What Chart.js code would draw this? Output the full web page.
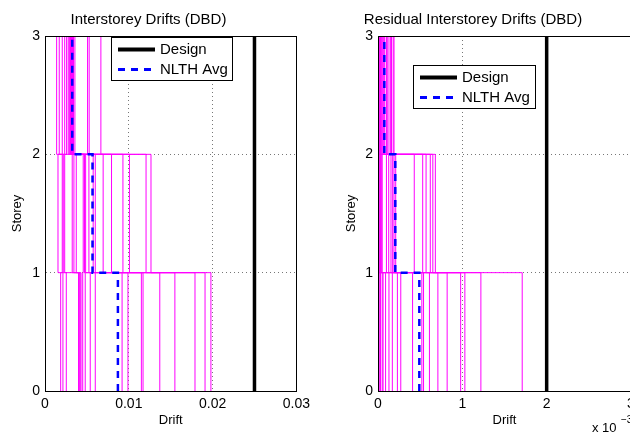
<!DOCTYPE html>
<html>
<head>
<meta charset="utf-8">
<script src="https://cdn.jsdelivr.net/npm/chart.js@4"></script>
<style>
  html, body { margin: 0; padding: 0; background: #fff; overflow: hidden; width: 630px; height: 434px; }
  canvas { position: absolute; top: 0; }
  #left { left: 0; width: 315px; height: 434px; }
  #right { left: 315px; width: 345px; height: 434px; }
</style>
</head>
<body>
<canvas id="left" width="315" height="434"></canvas>
<canvas id="right" width="345" height="434"></canvas>
<script>
const storeys = [0, 1, 2, 3];

// peak interstorey drift of each record (storey 1, 2, 3)
const peakStorey1 = [0.00187, 0.00214, 0.00254, 0.0040, 0.0041, 0.0042, 0.0043, 0.0045, 0.0048, 0.0054,
  0.0060, 0.0092, 0.0099, 0.0115, 0.0117, 0.0137, 0.0155, 0.0179, 0.0191, 0.0198];
const peakStorey2 = [0.00206, 0.00218, 0.00235, 0.00325, 0.00155, 0.00345, 0.00373, 0.00456, 0.0047, 0.00473,
  0.00485, 0.00524, 0.00575, 0.0060, 0.00694, 0.00794, 0.0093, 0.01008, 0.01206, 0.01265];
const peakStorey3 = [0.00139, 0.0017, 0.00206, 0.00235, 0.00258, 0.00277, 0.0029, 0.0030, 0.00306, 0.0031,
  0.0031, 0.0032, 0.0032, 0.0033, 0.00333, 0.0034, 0.00357, 0.00508, 0.00527, 0.00667];
const peakDesign = [0.025, 0.025, 0.025];
const peakAvg = [0.0087, 0.00567, 0.00325];

// residual interstorey drift of each record
const resStorey1 = [0.01e-3, 0.02e-3, 0.03e-3, 0.05e-3, 0.06e-3, 0.09e-3, 0.13e-3, 0.17e-3, 0.23e-3, 0.27e-3,
  0.41e-3, 0.52e-3, 0.54e-3, 0.61e-3, 0.71e-3, 0.82e-3, 0.98e-3, 1.03e-3, 1.22e-3, 1.71e-3];
const resStorey2 = [0, 0.005e-3, 0.01e-3, 0.015e-3, 0.02e-3, 0.03e-3, 0.04e-3, 0.05e-3, 0.10e-3, 0.127e-3,
  0.154e-3, 0.174e-3, 0.19e-3, 0.21e-3, 0.43e-3, 0.53e-3, 0.57e-3, 0.62e-3, 0.65e-3, 0.68e-3];
const resStorey3 = [0, 0, 0.005e-3, 0.01e-3, 0.01e-3, 0.015e-3, 0.02e-3, 0.03e-3, 0.04e-3, 0.05e-3,
  0.06e-3, 0.07e-3, 0.08e-3, 0.10e-3, 0.11e-3, 0.13e-3, 0.15e-3, 0.16e-3, 0.18e-3, 0.19e-3];
const resDesign = [0.002, 0.002, 0.002];
const resAvg = [0.49e-3, 0.205e-3, 0.075e-3];

const font = 'Liberation Sans, Arial, Helvetica, sans-serif';
Chart.defaults.font.family = font;
Chart.defaults.color = '#000';

// stairs: vertical segment per storey, joined at the floor levels
function stairs(drifts) {
  const pts = [];
  drifts.forEach(function (d, i) {
    pts.push({ x: d, y: storeys[i] }, { x: d, y: storeys[i + 1] });
  });
  return pts;
}

function buildDatasets(s1, s2, s3, design, avg) {
  const sets = [
    { label: 'Design', data: stairs(design), borderColor: '#000', borderWidth: 3.5 },
    { label: 'NLTH Avg', data: stairs(avg), borderColor: '#0000ff', borderWidth: 2.5, borderDash: [7, 6] },
  ];
  for (let i = 0; i < s1.length; i++) {
    sets.push({ label: '', data: stairs([s1[i], s2[i], s3[i]]), borderColor: '#ff00ff', borderWidth: 1 });
  }
  return sets;
}

const framePlugin = {
  id: 'frame',
  afterDatasetsDraw(chart) {
    const ctx = chart.ctx, a = chart.chartArea;
    ctx.save();
    ctx.strokeStyle = '#000';
    ctx.lineWidth = 1;
    ctx.strokeRect(Math.round(a.left) + 0.5, Math.round(a.top) + 0.5,
      Math.round(a.right - a.left), Math.round(a.bottom - a.top));
    ctx.restore();
  },
};

const legendBoxPlugin = {
  id: 'legendBox',
  afterDraw(chart, args, opts) {
    const ctx = chart.ctx;
    ctx.save();
    ctx.fillStyle = '#fff';
    ctx.fillRect(opts.x, opts.y, opts.w, opts.h);
    ctx.strokeStyle = '#000';
    ctx.lineWidth = 1;
    ctx.strokeRect(opts.x + 0.5, opts.y + 0.5, opts.w, opts.h);
    ctx.font = '15px ' + font;
    ctx.textBaseline = 'middle';
    ctx.fillStyle = '#000';
    for (let i = 0; i < 2; i++) {
      const ds = chart.data.datasets[i];
      const y = opts.y + 12.5 + i * 20;
      ctx.strokeStyle = ds.borderColor;
      ctx.lineWidth = ds.borderWidth + 0.5;
      ctx.setLineDash(ds.borderDash || []);
      ctx.beginPath();
      ctx.moveTo(opts.x + 7, y);
      ctx.lineTo(opts.x + 44, y);
      ctx.stroke();
      ctx.setLineDash([]);
      ctx.fillText(ds.label, opts.x + 49, y);
    }
    ctx.restore();
  },
};

const exponentPlugin = {
  id: 'exponent',
  afterDraw(chart, args, opts) {
    if (!opts.show) return;
    const ctx = chart.ctx;
    ctx.save();
    ctx.fillStyle = '#000';
    ctx.textBaseline = 'middle';
    ctx.font = '13px ' + font;
    ctx.fillText('x 10', opts.x, opts.y);
    ctx.font = '10px ' + font;
    ctx.fillText('\u22123', opts.x + 29, opts.y - 8);
    ctx.restore();
  },
};

function makeChart(id, cfg) {
  return new Chart(document.getElementById(id), {
    type: 'scatter',
    data: { datasets: cfg.datasets },
    options: {
      responsive: false,
      animation: false,
      showLine: true,
      elements: { point: { radius: 0 }, line: { tension: 0, fill: false } },
      layout: { padding: { left: 0, right: cfg.padRight, top: 0, bottom: 0 } },
      plugins: {
        legend: { display: false },
        tooltip: { enabled: false },
        title: {
          display: true, text: cfg.title, color: '#000',
          font: { size: 15, weight: 'normal' },
          padding: { top: 11, bottom: 7 },
        },
        legendBox: cfg.legend,
        exponent: cfg.exponent,
      },
      scales: {
        x: {
          type: 'linear', min: 0, max: cfg.xMax,
          afterFit: function (s) { s.height = 43; },
          ticks: {
            stepSize: cfg.xStep, padding: 5, maxRotation: 0,
            font: { size: 14 }, callback: cfg.xFormat,
          },
          grid: { color: '#777', lineWidth: 1, drawTicks: false },
          border: { display: true, color: '#000', dash: [1, 3] },
          title: { display: true, text: 'Drift', font: { size: 13 }, padding: { top: 0, bottom: 6 } },
        },
        y: {
          type: 'linear', min: 0, max: 3,
          afterFit: function (s) { s.width = cfg.yWidth; },
          ticks: { stepSize: 1, padding: 5, font: { size: 14 } },
          grid: { color: '#777', lineWidth: 1, drawTicks: false },
          border: { display: true, color: '#000', dash: [1, 3] },
          title: { display: true, text: 'Storey', font: { size: 13 }, padding: { top: cfg.yTitlePad, bottom: 0 } },
        },
      },
    },
    plugins: [framePlugin, legendBoxPlugin, exponentPlugin],
  });
}

makeChart('left', {
  title: 'Interstorey Drifts (DBD)',
  datasets: buildDatasets(peakStorey1, peakStorey2, peakStorey3, peakDesign, peakAvg),
  xMax: 0.03, xStep: 0.01,
  xFormat: function (v) { return +v.toFixed(2); },
  padRight: 18, yWidth: 45, yTitlePad: 10,
  legend: { x: 111, y: 37, w: 121, h: 43 },
  exponent: { show: false },
});

makeChart('right', {
  title: 'Residual Interstorey Drifts (DBD)',
  datasets: buildDatasets(resStorey1, resStorey2, resStorey3, resDesign, resAvg),
  xMax: 0.003, xStep: 0.001,
  xFormat: function (v) { return Math.round(v * 1000); },
  padRight: 29, yWidth: 63, yTitlePad: 29,
  legend: { x: 98, y: 65, w: 122, h: 43 },
  exponent: { show: true, x: 277, y: 428 },
});
</script>
</body>
</html>
